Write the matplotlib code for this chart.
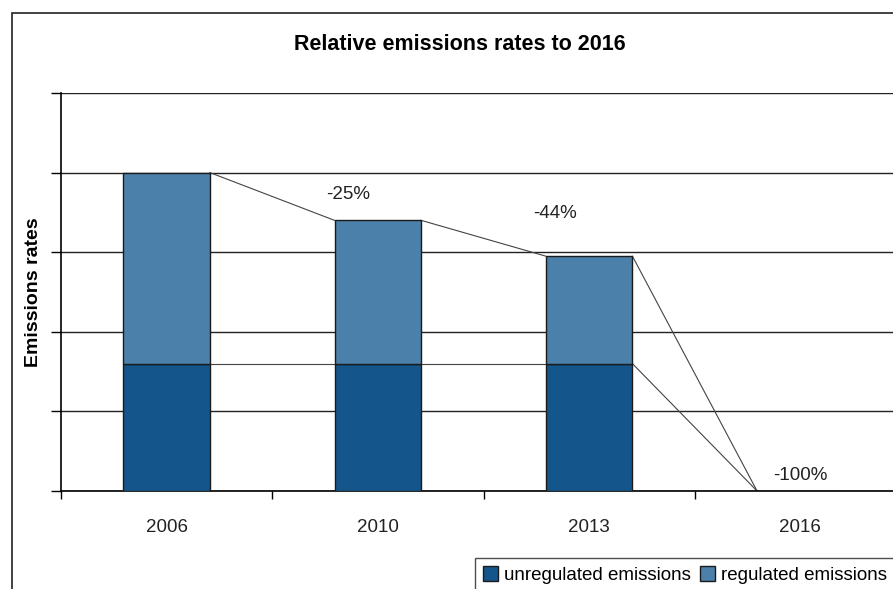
import matplotlib.pyplot as plt
from matplotlib.patches import Rectangle

# values (axis 0-100, gridlines every 20)
years = ["2006", "2010", "2013", "2016"]
unregulated = [32, 32, 32, 0]
regulated = [48, 36, 27, 0]
change_labels = ["", "-25%", "-44%", "-100%"]
label_heights = [0, 74.4, 69.8, 4]
label_shift = [0, -0.14, -0.16, 0]

plt.rcParams['font.family'] = ['Liberation Sans', 'DejaVu Sans']

dark = "#14568b"
light = "#4b80aa"
width = 0.41

fig = plt.figure(figsize=(8.93, 5.89), dpi=100)
# outer chart frame (runs off the right/bottom like the original)
fig.patches.append(Rectangle((12 / 893, -0.05), 1.1, 1 - 13 / 589 + 0.05,
                             transform=fig.transFigure, fill=False,
                             edgecolor="#222222", linewidth=1.2, clip_on=False))
ax = fig.add_axes([61 / 893, 1 - 491 / 589, 845 / 893, 398 / 589])

x = list(range(len(years)))
totals = [u + r for u, r in zip(unregulated, regulated)]

ax.bar(x, unregulated, width, color=dark, edgecolor="#1a1a1a", linewidth=1.0,
       label="unregulated emissions", zorder=3)
ax.bar(x, regulated, width, bottom=unregulated, color=light, edgecolor="#1a1a1a",
       linewidth=1.0, label="regulated emissions", zorder=3)

# series lines between bars
for i in range(len(x) - 1):
    ax.plot([x[i] + width / 2, x[i + 1] - width / 2], [totals[i], totals[i + 1]],
            color="#444444", linewidth=0.8, zorder=2)
    ax.plot([x[i] + width / 2, x[i + 1] - width / 2], [unregulated[i], unregulated[i + 1]],
            color="#444444", linewidth=0.8, zorder=2)

for i, lab in enumerate(change_labels):
    if lab:
        ax.text(x[i] + label_shift[i], label_heights[i], lab, ha="center", va="center",
                fontsize=13.5, color="#222222")

ax.set_xlim(-0.5, 3.5)
ax.set_ylim(0, 100)
ax.set_yticks(range(0, 101, 20))
ax.set_yticklabels([])
ax.yaxis.grid(True, color="#222222", linewidth=1.0)
ax.set_axisbelow(True)
ax.set_xticks([i - 0.5 for i in range(5)], minor=False)
ax.set_xticklabels([])
ax.set_xticks(x, minor=True)
ax.set_xticklabels(years, minor=True, fontsize=13.5, color="#222222")
ax.tick_params(axis="x", which="minor", length=0, pad=20)
ax.tick_params(axis="x", which="major", length=6, direction="out", width=1)
ax.tick_params(axis="y", length=7, direction="out", width=1)
for s in ["top", "right"]:
    ax.spines[s].set_visible(False)
for s in ["left", "bottom"]:
    ax.spines[s].set_linewidth(1.2)

ax.set_ylabel("Emissions rates", fontsize=14, fontweight="bold", labelpad=0)
ax.yaxis.set_label_coords(-(61 - 42) / 845, 0.5)
fig.text(460 / 893, 1 - 45 / 589, "Relative emissions rates to 2016", ha="center",
         va="center", fontsize=15.5, fontweight="bold")

leg = fig.legend(loc="upper left", bbox_to_anchor=(475 / 893, 1 - 558 / 589), ncol=2,
                 frameon=True, fancybox=False, edgecolor="#222222", fontsize=13.5,
                 handlelength=0.8, handleheight=0.8, handletextpad=0.3,
                 columnspacing=0.5, borderpad=0.45, borderaxespad=0)
leg.get_frame().set_linewidth(1.0)

fig.savefig("out.png", dpi=100)
